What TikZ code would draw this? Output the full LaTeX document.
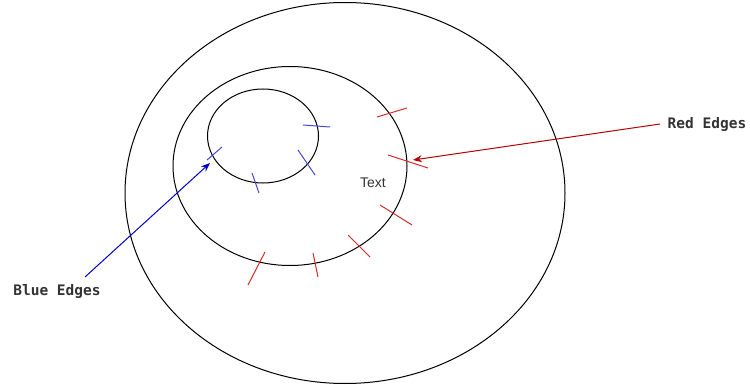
\documentclass[tikz,border=0pt]{standalone}
\usepackage{fontspec}
\setmainfont{Liberation Sans}
\setmonofont{DejaVu Sans Mono}
\usepackage{xcolor}
\usetikzlibrary{arrows.meta,positioning,shapes.geometric}
\definecolor{edgeRed}{RGB}{215,40,40}
\definecolor{edgeBlue}{RGB}{70,70,220}
\definecolor{arrRed}{RGB}{180,0,0}
\definecolor{arrBlue}{RGB}{0,0,205}
\tikzset{
  ring/.style={ellipse, draw=black, line width=1pt, minimum width=#1},
  redge/.style={edgeRed, line width=1pt},
  bedge/.style={edgeBlue, line width=1pt},
  arr/.style={-{Stealth[length=9pt,width=7pt]}, line width=1pt, #1},
  lbl/.style={font=\ttfamily\fontsize{14.5}{16}\selectfont\bfseries, text=black!80},
}
\begin{document}
\begin{tikzpicture}[x=1pt, y=-1pt]
    \useasboundingbox (0,0) rectangle (750,385);

    % the three rings
    \node[ring=440pt, minimum height=381pt] (outer) at (345,193) {};
    \node[ring=234pt, minimum height=199pt] (middle) at (290,166) {};
    \node[ring=111pt, minimum height=94pt] (inner) at (263,136) {};

    % blue edges on the inner ring
    \draw[bedge] (207,160) -- (222,147);
    \draw[bedge] (252,173) -- (259,193);
    \draw[bedge] (298,150) -- (315,175);
    \draw[bedge] (303,125) -- (330,127);

    % red edges on the middle ring
    \draw[redge] (377,117) -- (407,108);
    \draw[redge] (388,155) -- (428,168);
    \draw[redge] (380,205) -- (412,225);
    \draw[redge] (348,235) -- (370,257);
    \draw[redge] (248,285) -- (265,252);
    \draw[redge] (313,253) -- (318,277);

    \node[font=\fontsize{14}{16}\selectfont, text=black!80] (txt) at (373,183) {Text};

    % labels
    \node[lbl] (red) at (707,124) {Red Edges};
    \node[lbl] (blue) at (57,291) {Blue Edges};

    \coordinate (redTip) at (413,160);
    \coordinate (redEnd) at (660,124);
    \coordinate (blueTip) at (210,163);
    \coordinate (blueEnd) at (85,277);

    \draw[arr=arrRed] (redEnd) -- (redTip);
    \draw[arr=arrBlue] (blueEnd) -- (blueTip);
\end{tikzpicture}
\end{document}
